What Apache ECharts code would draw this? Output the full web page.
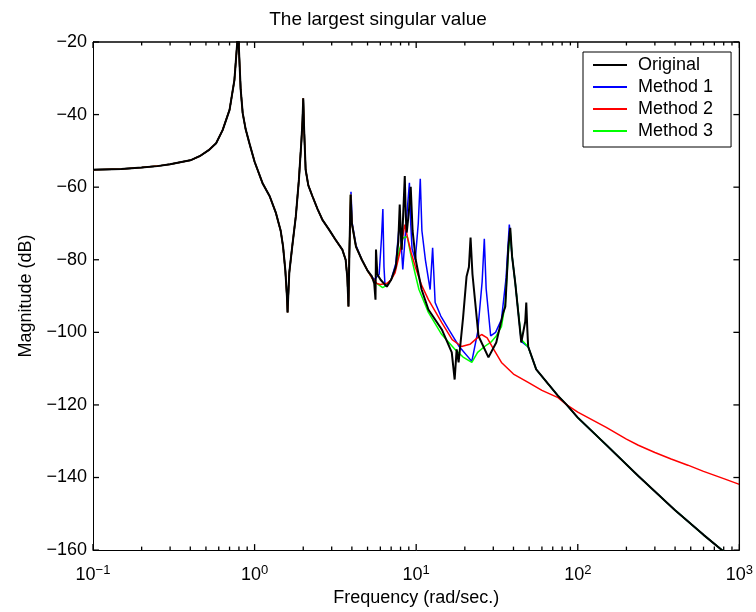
<!DOCTYPE html>
<html>
<head>
<meta charset="utf-8">
<script src="https://cdn.jsdelivr.net/npm/echarts@6/dist/echarts.min.js"></script>
<style>
  html, body { margin: 0; padding: 0; background: #fff; }
  #chart { width: 756px; height: 612px; }
</style>
</head>
<body>
<div id="chart"></div>
<script>
// [frequency (rad/sec), magnitude (dB)]
// all four curves coincide below ~3.8 rad/s
const commonLow = [
  [0.1, -55.2], [0.15, -55], [0.2, -54.6], [0.25, -54.2], [0.3, -53.7], [0.4, -52.6],
  [0.46, -51.4], [0.52, -49.8], [0.578, -47.9], [0.635, -44.2], [0.7, -38.7], [0.75, -30.5],
  [0.78, -20.5], [0.79, -14], [0.8, -22], [0.82, -33], [0.844, -39.6], [0.88, -44],
  [0.93, -48], [1.0, -53], [1.12, -58.9], [1.24, -62.5], [1.355, -67.1], [1.45, -72],
  [1.5, -76.3], [1.55, -83], [1.585, -90], [1.6, -94.5], [1.615, -90], [1.64, -83.5],
  [1.71, -76.3], [1.8, -68], [1.88, -58], [1.95, -47], [1.98, -41.5], [2.0, -35.5],
  [2.025, -44], [2.07, -55.2], [2.15, -59.5], [2.28, -62.5], [2.45, -66], [2.63, -69],
  [2.89, -71.7], [3.17, -74.5], [3.49, -77.2], [3.66, -80], [3.75, -85], [3.81, -92.9]
];

// black, blue and green coincide again above ~55 rad/s
const commonHigh = [
  [65, -114], [75.5, -117.5], [85.5, -120], [100, -123.5], [150, -131], [237, -139.6],
  [400, -149], [600, -155.8], [795, -160.3], [1000, -164]
];

const originalMid = [
  [3.86, -78], [3.93, -62.1], [4.0, -70], [4.24, -76.4], [4.61, -80], [5.0, -83],
  [5.32, -84.6], [5.5, -86.5], [5.6, -91], [5.64, -77.2], [5.75, -84], [6.02, -85.5],
  [6.58, -87.4], [7.0, -85.5], [7.48, -81.9], [7.75, -75], [7.91, -64.8], [8.02, -72],
  [8.14, -77.2], [8.3, -68], [8.5, -56.9], [8.62, -68], [8.74, -72.5], [9.0, -67],
  [9.25, -59.9], [9.5, -72], [9.93, -80], [10.8, -88.2], [11.9, -93.7], [14.4, -99.2],
  [16.6, -105.5], [17.3, -113], [17.8, -104.7], [18.3, -108.3], [19.5, -96], [20.5, -84.6],
  [21.2, -82], [21.7, -73.9], [22.3, -84], [24.3, -101], [28.0, -106.9], [31.3, -102.8],
  [34.6, -94.5], [35.6, -92.9], [37.2, -76.4], [38.2, -71.2], [39.2, -79], [41.0, -86.3],
  [44.7, -102.8], [47.3, -97], [48.0, -91.8], [48.7, -99], [49.3, -103.9], [55.3, -110.2]
];

const method1Mid = [
  [3.86, -78], [3.95, -61.3], [4.02, -70], [4.24, -76], [4.61, -80], [5.0, -83],
  [5.5, -85.5], [5.9, -84], [6.1, -74], [6.22, -66], [6.32, -82], [6.42, -87.4],
  [7.0, -85.5], [7.48, -81], [7.91, -69], [8.26, -82.7], [8.6, -72], [9.08, -58.8],
  [9.25, -70], [9.43, -77], [9.87, -80], [10.3, -70], [10.6, -57.7], [10.85, -72],
  [11.4, -80], [12.2, -88.2], [12.64, -76.7], [13.1, -91.8], [14.2, -95.5], [15.9, -99.2],
  [18.5, -104], [22.1, -108], [24, -100], [25.6, -86], [26.4, -74.2], [27.1, -88],
  [28.9, -101], [31.0, -100], [33.7, -96.5], [36.0, -85], [37.7, -70.3], [39.2, -79],
  [41.0, -86.3], [44.7, -102.5], [49.3, -104], [55.3, -110.2]
];

const method2Tail = [
  [3.86, -78], [3.93, -62], [4.0, -70], [4.24, -76.4], [4.61, -80], [5.0, -83],
  [5.32, -85], [5.7, -86.5], [6.0, -86.8], [6.6, -86.5], [7.0, -85.5], [7.4, -83.6],
  [8.0, -77.2], [8.5, -70.3], [8.8, -73.5], [9.3, -78], [9.87, -81.9], [10.8, -87],
  [11.9, -91], [14.4, -97.3], [16.7, -102], [19.1, -103.9], [21.5, -103.3], [23.5, -101.8],
  [25.4, -100.6], [27.5, -101.5], [30, -104.5], [33.7, -108.3], [40, -111.5], [49.3, -113.8],
  [60, -116], [75.5, -118], [85.5, -120], [100, -122], [150, -126.2], [200, -129.4],
  [237, -131.1], [300, -133.1], [378, -134.9], [480, -136.6], [600, -138.3], [800, -140.3],
  [1000, -141.9]
];

const method3Mid = [
  [3.86, -78], [3.93, -62], [4.0, -70], [4.24, -76.4], [4.61, -80], [5.0, -83],
  [5.5, -86], [6.2, -87.7], [6.6, -87], [7.1, -85], [7.5, -82], [7.9, -77],
  [8.3, -74], [8.8, -73.6], [9.3, -79], [9.87, -84], [10.4, -88.2], [11.9, -94.5],
  [14.4, -100.6], [17.4, -104.7], [19.5, -106.8], [22.1, -108.3], [24, -105.5], [26.5, -103.9],
  [29, -102.7], [31.3, -101], [33.7, -98.4], [35.6, -92], [37.2, -78], [38.2, -72],
  [39.2, -79], [41.0, -86.3], [44.7, -102], [49.3, -104], [55.3, -110.2]
];

const seriesNames = ['Original', 'Method 1', 'Method 2', 'Method 3'];
const seriesColors = ['#000000', '#0000ff', '#ff0000', '#00ff00'];

const xMin = 0.1, xMax = 1000;
const yMin = -160, yMax = -20;
const xMajorTicks = [0.1, 1, 10, 100, 1000];
const xTickExponents = ['\u22121', '0', '1', '2', '3'];
const yTicks = [-160, -140, -120, -100, -80, -60, -40, -20];

const FONT = '"Liberation Sans", Arial, Helvetica, sans-serif';

// inward tick marks on all four sides, as segments [x1, y1, x2, y2] in axis units
// (tick length: ~6 px major, ~3.5 px minor on a 509 px tall / 162 px-per-decade plot)
const majorDy = 1.65, minorDy = 0.96, majorFx = 1.089;
const tickSegments = [];
const addXTick = (v, dy) => {
  tickSegments.push([v, yMin, v, yMin + dy]);
  tickSegments.push([v, yMax, v, yMax - dy]);
};
xMajorTicks.forEach(v => addXTick(v, majorDy));
for (let d = -1; d < 3; d++) {
  for (let k = 2; k <= 9; k++) addXTick(k * Math.pow(10, d), minorDy);
}
yTicks.forEach(v => {
  tickSegments.push([xMin, v, xMin * majorFx, v]);
  tickSegments.push([xMax, v, xMax / majorFx, v]);
});

// top and right edges of the box
const boxEdges = [[xMin, yMax, xMax, yMax], [xMax, yMin, xMax, yMax]];

const renderSegment = (params, api) => {
  const a = api.coord([api.value(0), api.value(1)]);
  const b = api.coord([api.value(2), api.value(3)]);
  return { type: 'line', shape: { x1: a[0], y1: a[1], x2: b[0], y2: b[1] }, style: { stroke: '#000', lineWidth: 1.3 } };
};

const chart = echarts.init(document.getElementById('chart'));

const lineOf = (idx, data, width) => ({
  name: seriesNames[idx],
  type: 'line',
  data: data,
  symbol: 'none',
  showSymbol: false,
  lineStyle: { color: seriesColors[idx], width: width },
  itemStyle: { color: seriesColors[idx] }
});

const boxLine = () => ({ show: true, onZero: false, lineStyle: { color: '#000', width: 1 } });

const option = {
  animation: false,
  backgroundColor: '#fff',
  textStyle: { fontFamily: FONT },
  title: {
    text: 'The largest singular value',
    left: 'center',
    top: 5,
    textStyle: { fontFamily: FONT, fontSize: 19, fontWeight: 'normal', color: '#000' }
  },
  grid: { left: 93, right: 14, top: 42, bottom: 61 },
  legend: {
    data: seriesNames,
    orient: 'vertical',
    left: 583,
    top: 52,
    padding: [4, 18, 7, 10],
    icon: 'rect',
    itemWidth: 34,
    itemHeight: 2,
    itemGap: 4,
    borderColor: '#000',
    borderWidth: 1,
    borderRadius: 0,
    backgroundColor: '#fff',
    textStyle: { fontFamily: FONT, fontSize: 18, color: '#000', padding: [0, 0, 0, 6] }
  },
  xAxis: {
    type: 'log',
    logBase: 10,
    min: xMin,
    max: xMax,
    name: 'Frequency (rad/sec.)',
    nameLocation: 'middle',
    nameGap: 37,
    nameTextStyle: { fontFamily: FONT, fontSize: 18, color: '#000' },
    axisLine: boxLine(),
    axisTick: { show: false },
    splitLine: { show: false },
    axisLabel: {
      showMinLabel: true,
      showMaxLabel: true,
      margin: 14,
      formatter: v => '{b|10}{s|' + xTickExponents[Math.round(Math.log10(v)) + 1] + '}',
      rich: {
        b: { fontFamily: FONT, fontSize: 18, color: '#000' },
        s: { fontFamily: FONT, fontSize: 13, color: '#000', padding: [0, 0, 9, 0] }
      }
    }
  },
  yAxis: {
    type: 'value',
    min: yMin,
    max: yMax,
    interval: 20,
    name: 'Magnitude (dB)',
    nameLocation: 'middle',
    nameGap: 58,
    nameTextStyle: { fontFamily: FONT, fontSize: 18, color: '#000' },
    axisLine: boxLine(),
    axisTick: { show: false },
    splitLine: { show: false },
    axisLabel: {
      margin: 6,
      fontFamily: FONT,
      fontSize: 18,
      color: '#000',
      formatter: v => String(v).replace('-', '\u2212')
    }
  },
  series: [
    lineOf(1, commonLow.concat(method1Mid, commonHigh), 1.5),
    lineOf(3, commonLow.concat(method3Mid, commonHigh), 1.5),
    lineOf(2, commonLow.concat(method2Tail), 1.5),
    lineOf(0, commonLow.concat(originalMid, commonHigh), 2),
    { type: 'custom', clip: false, z: 5, data: tickSegments, renderItem: renderSegment },
    { type: 'custom', clip: false, z: 5, data: boxEdges, renderItem: renderSegment }
  ]
};

chart.setOption(option);
</script>
</body>
</html>
